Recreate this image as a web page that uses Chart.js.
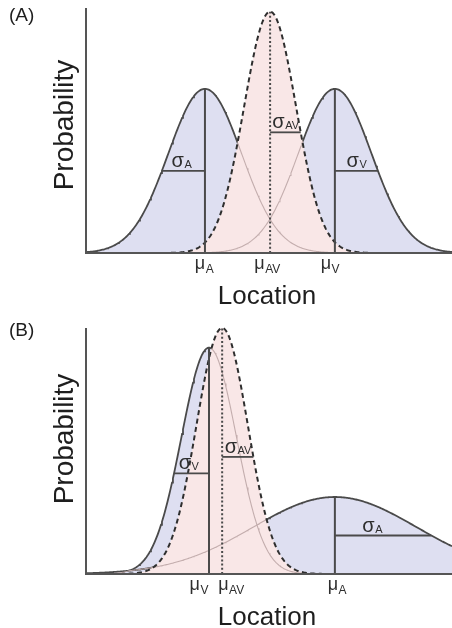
<!DOCTYPE html>
<html>
<head>
<meta charset="utf-8">
<script src="https://cdn.jsdelivr.net/npm/chart.js@4.4.1/dist/chart.umd.min.js"></script>
<style>
  html, body { margin: 0; padding: 0; background: #fff; }
  .panel { position: absolute; left: 0; width: 452px; height: 314px; }
</style>
</head>
<body>
<div class="panel" style="top:0"><canvas id="chartA" width="452" height="314"></canvas></div>
<div class="panel" style="top:314px"><canvas id="chartB" width="452" height="314"></canvas></div>
<script>
// (A) auditory and visual cues equally reliable
const cuesA = ['A', 'AV', 'V'];
const meansA = [3.25, 5.03, 6.80];
const sigmasA = [1.0, 0.71, 1.0];
const peaksA = [0.67, 0.985, 0.67];
const barLevelsA = [0.5, 0.5, 0.5];        // σ bar height, as a share of the peak

// (B) visual cue far more reliable than auditory
const cuesB = ['V', 'AV', 'A'];
const meansB = [3.36, 3.72, 6.80];
const sigmasB = [0.75, 0.70, 2.24];
const peaksB = [0.92, 1.0, 0.313];
const barLevelsB = [0.445, 0.476, 0.5];

const locationRange = [0, 10];
const xTitle = 'Location';
const yTitle = 'Probability';

const FONT = '"Liberation Sans", Arial, Helvetica, sans-serif';
const INK = '#4a4a4a';
const UNI_FILL = 'rgb(222,223,241)';
const AV_FILL = 'rgb(249,231,231)';
const FAINT = 'rgba(192,170,170,0.95)';
const CLEAR = 'rgba(0,0,0,0)';

function gaussian(x, mu, sd, peak) {
  return peak * Math.exp(-0.5 * Math.pow((x - mu) / sd, 2));
}

function curve(mu, sd, peak) {
  const pts = [];
  const n = 400;
  for (let i = 0; i <= n; i++) {
    const x = locationRange[0] + (locationRange[1] - locationRange[0]) * i / n;
    pts.push({ x, y: gaussian(x, mu, sd, peak) });
  }
  return pts;
}

// main symbol followed by a lowered subscript
function drawSubscripted(ctx, main, sub, x, baseY, mainSize, subSize, drop, align) {
  ctx.font = mainSize + 'px ' + FONT;
  const w1 = ctx.measureText(main).width;
  ctx.font = subSize + 'px ' + FONT;
  const w2 = ctx.measureText(sub).width;
  const total = w1 + w2;
  let x0 = x - total / 2;
  if (align === 'right') x0 = x - total;
  if (align === 'left') x0 = x;
  ctx.textAlign = 'left';
  ctx.textBaseline = 'alphabetic';
  ctx.font = mainSize + 'px ' + FONT;
  ctx.fillText(main, x0, baseY);
  ctx.font = subSize + 'px ' + FONT;
  ctx.fillText(sub, x0 + w1 + 0.5, baseY + drop);
}

const overlay = {
  id: 'overlay',
  afterDatasetsDraw(chart, args, opts) {
    const { ctx, chartArea: ca, scales: { x, y } } = chart;
    const p = opts.panel;
    const y0 = y.getPixelForValue(0);
    ctx.save();

    p.cues.forEach((cue, i) => {
      const px = x.getPixelForValue(p.means[i]);
      const top = y.getPixelForValue(p.peaks[i]);

      // mean marker
      ctx.beginPath();
      ctx.strokeStyle = INK;
      ctx.lineWidth = 2;
      ctx.setLineDash(cue === 'AV' ? [2, 2.2] : []);
      ctx.moveTo(px, y0);
      ctx.lineTo(px, top);
      ctx.stroke();
      ctx.setLineDash([]);

      // σ bar from the mean out to the curve
      const lvl = p.levels[i];
      const reach = p.sigmas[i] * Math.sqrt(2 * Math.log(1 / lvl));
      const xEnd = x.getPixelForValue(p.means[i] + p.dirs[i] * reach);
      const yb = y.getPixelForValue(p.peaks[i] * lvl);
      ctx.beginPath();
      ctx.lineWidth = 1.8;
      ctx.moveTo(px, yb);
      ctx.lineTo(xEnd, yb);
      ctx.stroke();

      ctx.fillStyle = '#2e2e2e';
      drawSubscripted(ctx, 'σ', cue, (px + xEnd) / 2 + p.sigmaShift[i], yb - 4, 20, 11, 1, 'center');

      // μ tick label under the axis
      drawSubscripted(ctx, 'μ', cue, px + p.muShift[i], y0 + 16, 18, 12, 4, p.muAlign[i]);
    });

    // axes
    ctx.beginPath();
    ctx.strokeStyle = '#555';
    ctx.lineWidth = 2;
    ctx.moveTo(ca.left, ca.top);
    ctx.lineTo(ca.left, y0);
    ctx.lineTo(ca.right, y0);
    ctx.stroke();

    // axis titles
    ctx.fillStyle = '#1e1e1e';
    ctx.font = '26px ' + FONT;
    ctx.textAlign = 'center';
    ctx.textBaseline = 'alphabetic';
    ctx.fillText(xTitle, 267, y0 + 51);

    ctx.save();
    ctx.translate(73, 125);
    ctx.rotate(-Math.PI / 2);
    ctx.font = '28px ' + FONT;
    ctx.fillText(yTitle, 0, 0);
    ctx.restore();

    // panel tag
    ctx.font = '19px ' + FONT;
    ctx.textAlign = 'left';
    ctx.fillStyle = '#1e1e1e';
    ctx.fillText(p.tag, 9, p.tagY);

    ctx.restore();
  }
};

function buildPanel(canvasId, cfg) {
  const datasets = [];
  const iAV = cfg.cues.indexOf('AV');
  const uni = cfg.cues.map((c, i) => i).filter(i => i !== iAV);
  const valueOf = (j, xv) => gaussian(xv, cfg.means[j], cfg.sigmas[j], cfg.peaks[j]);

  // unimodal likelihoods, filled
  uni.forEach((i, k) => {
    datasets.push({
      data: curve(cfg.means[i], cfg.sigmas[i], cfg.peaks[i]),
      borderColor: INK, borderWidth: 1.8,
      backgroundColor: UNI_FILL, fill: 'origin',
      order: 10 - k
    });
  });
  // combined estimate, opaque fill
  datasets.push({
    data: curve(cfg.means[iAV], cfg.sigmas[iAV], cfg.peaks[iAV]),
    borderWidth: 0, borderColor: CLEAR,
    backgroundColor: AV_FILL, fill: 'origin', order: 6
  });
  // unimodal curves, faint wherever another curve lies over them
  uni.forEach((i, k) => {
    datasets.push({
      data: curve(cfg.means[i], cfg.sigmas[i], cfg.peaks[i]),
      borderColor: FAINT, borderWidth: 1.1, fill: false, order: 5 - k,
      segment: {
        borderColor: s => {
          const xm = (s.p0.parsed.x + s.p1.parsed.x) / 2;
          const own = valueOf(i, xm);
          const cover = Math.max(...cfg.cues.map((c, j) => j === i ? 0 : valueOf(j, xm)));
          return own < cover ? FAINT : CLEAR;
        }
      }
    });
  });
  // combined outline, dashed
  datasets.push({
    data: curve(cfg.means[iAV], cfg.sigmas[iAV], cfg.peaks[iAV]),
    borderColor: '#2e2e2e', borderWidth: 2, borderDash: [5, 3.5], fill: false, order: 1
  });
  datasets.forEach(d => { d.pointRadius = 0; d.tension = 0; d.clip = false; });

  return new Chart(document.getElementById(canvasId), {
    type: 'line',
    data: { datasets },
    options: {
      responsive: false,
      animation: false,
      devicePixelRatio: 1,
      layout: { padding: cfg.padding },
      plugins: {
        legend: { display: false },
        tooltip: { enabled: false },
        overlay: { panel: cfg }
      },
      scales: {
        x: { type: 'linear', min: locationRange[0], max: locationRange[1], display: false },
        y: { type: 'linear', min: 0, max: 1, display: false }
      }
    },
    plugins: [overlay]
  });
}

buildPanel('chartA', {
  tag: '(A)', tagY: 21,
  cues: cuesA, means: meansA, sigmas: sigmasA, peaks: peaksA, levels: barLevelsA,
  dirs: [-1, 1, 1],
  sigmaShift: [-2, 0, 0],
  muAlign: ['center', 'center', 'center'],
  muShift: [-1, -3, -5],
  padding: { left: 86, right: 0, top: 8, bottom: 61 }
});

buildPanel('chartB', {
  tag: '(B)', tagY: 22,
  cues: cuesB, means: meansB, sigmas: sigmasB, peaks: peaksB, levels: barLevelsB,
  dirs: [-1, 1, 1],
  sigmaShift: [-3, 0, -11],
  muAlign: ['right', 'left', 'center'],
  muShift: [-1, -4, 2],
  padding: { left: 86, right: 0, top: 14, bottom: 54 }
});
</script>
</body>
</html>
